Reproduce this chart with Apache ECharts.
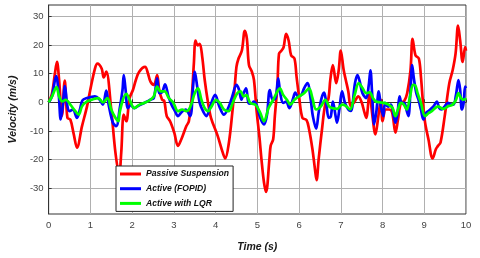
<!DOCTYPE html>
<html>
<head>
<meta charset="utf-8">
<script src="https://cdn.jsdelivr.net/npm/echarts@6/dist/echarts.min.js"></script>
<style>html,body{margin:0;padding:0;background:#fff}#c{width:480px;height:258px}</style>
</head>
<body>
<div id="c"></div>
<script>
var yTicks = [-30, -20, -10, 0, 10, 20, 30];
var seriesNames = ['Passive Suspension', 'Active (FOPID)', 'Active with LQR'];

var passiveT = [0,0.08,0.15,0.2,0.25,0.32,0.385,0.45,0.52,0.6,0.68,0.8,0.92,0.99,1.11,1.17,1.27,1.32,1.38,1.5,1.6,1.69,1.74,1.8,1.86,1.94,2.02,2.09,2.17,2.31,2.38,2.44,2.52,2.6,2.65,2.72,2.77,2.83,2.91,3.01,3.1,3.18,3.3,3.36,3.43,3.48,3.52,3.57,3.62,3.68,3.74,3.82,3.89,4.05,4.17,4.23,4.32,4.4,4.46,4.5,4.55,4.63,4.7,4.75,4.8,4.87,4.92,4.98,5.05,5.1,5.16,5.21,5.29,5.32,5.38,5.42,5.48,5.52,5.58,5.63,5.69,5.75,5.81,5.89,5.94,6.0,6.08,6.18,6.24,6.32,6.38,6.42,6.47,6.55,6.63,6.7,6.75,6.81,6.89,6.95,7.0,7.07,7.12,7.18,7.24,7.32,7.42,7.5,7.57,7.61,7.69,7.75,7.83,7.9,7.96,8.0,8.08,8.16,8.23,8.31,8.37,8.44,8.52,8.59,8.67,8.72,8.79,8.87,8.92,8.97,9.02,9.1,9.2,9.28,9.33,9.39,9.49,9.6,9.68,9.75,9.81,9.86,9.92,9.98,10];
var passiveV = [0,3,10,14.1,8,-4.7,7.6,-5.4,-6,-11,-15.8,-8.3,-1.4,3.8,11.8,13.5,11.8,8.7,10.7,-2.5,-17.5,-25.3,-17.5,-4.3,-6.6,1.5,4.3,7.8,10.7,12.4,10.1,7.2,6.1,9.5,4.3,0.9,0.5,-4.8,-6.6,-10.6,-15.2,-12.9,-8.3,-6.6,2.1,13.6,21.6,19.9,20.4,15.9,7.8,-0.2,-5.4,-11.7,-17.5,-19.6,-14,-3.7,5.5,12.4,15.3,18.1,25,22.2,13,10.7,7.8,-2.5,-12,-20,-28,-31.3,-19.8,-15.2,-12.9,-4.8,5.5,17,18.1,19.3,23.9,21.6,16.4,15.3,9,2.1,-5.4,-6.2,-9.4,-16.3,-23.2,-27.2,-19.8,-9.4,-0.5,1,8,13,6.7,11.2,18.1,11.2,7.8,3.8,-1.4,0,2.1,0,-3.7,-5.4,3.2,-3.7,-11.2,-4.8,0.9,-6.6,-2.5,-2.5,-3.5,-10.6,-6,-0.2,0.5,3.2,11.2,22.2,16.4,15.3,9,-0.2,-7.1,-12.9,-19.6,-16.3,-15.2,-14,-4.8,6.7,11.2,17,26.8,21.6,14.1,19.3,18];

var fopidT = [0,0.08,0.18,0.24,0.29,0.34,0.39,0.45,0.5,0.58,0.68,0.75,0.81,0.92,1.11,1.22,1.3,1.38,1.44,1.54,1.62,1.7,1.77,1.8,1.84,1.9,1.97,2.05,2.17,2.29,2.44,2.52,2.6,2.65,2.72,2.79,2.87,2.95,3.03,3.1,3.18,3.28,3.39,3.46,3.5,3.56,3.62,3.7,3.78,3.87,3.99,4.09,4.2,4.32,4.4,4.5,4.56,4.62,4.67,4.73,4.79,4.86,4.91,4.98,5.07,5.16,5.23,5.3,5.37,5.44,5.5,5.55,5.62,5.69,5.77,5.85,5.91,5.97,6.05,6.12,6.2,6.28,6.33,6.41,6.47,6.54,6.6,6.65,6.71,6.76,6.81,6.87,6.91,6.97,7.03,7.1,7.18,7.24,7.34,7.4,7.45,7.52,7.61,7.67,7.71,7.75,7.8,7.85,7.91,7.96,8.02,8.06,8.13,8.2,8.27,8.31,8.36,8.41,8.46,8.52,8.58,8.62,8.67,8.71,8.75,8.81,8.86,8.92,8.98,9.04,9.1,9.18,9.24,9.3,9.36,9.41,9.49,9.57,9.63,9.7,9.76,9.82,9.86,9.9,9.94,9.98,10];
var fopidV = [0,2.1,9.2,3.2,-6,-1,5.7,-1.4,-3.1,-2.5,-5.4,-2.5,0.7,1.5,2.1,1,-0.8,4.1,-1,-7.1,-8.3,-2.5,4.3,9.5,4.9,-2,-1,-2,-1,-0.2,0.9,1.5,8.4,3.2,3.5,6.3,2.1,-1,-3.1,-4.8,-3.5,-2.5,-4.8,5.5,10.7,5.5,-0.2,-3.1,-4.8,-1.4,2.6,-1.4,-4.3,-1.4,2.1,6.1,4.5,0.9,3.2,4.9,-0.2,-0.5,0.3,-0.8,-5.4,-7.7,-4.5,4.3,0.9,1.5,8.4,3.2,-0.2,0.3,-2,1,3.4,2.1,2.5,4.9,6.7,0.9,-4.8,-9.2,-3.5,1.5,3.4,0,-5.4,-5,0.3,-4.3,-7.1,-2,3.8,-0.2,-2.5,-3,6.7,9.5,7.5,3.2,1.5,6,11.2,3.2,-7.7,-3.5,3.8,-1.4,-4.8,-0.2,-1.5,-0.8,-4.8,-7.1,-3.7,2.1,-0.2,-0.2,-3,-4.8,4.3,13,8.4,3.2,1,-2.5,-6,-3.7,-3,-2,-1,0.3,-2,-2.5,-1.4,-0.2,-0.8,-0.8,2.6,7.8,4.3,-2.5,-0.5,5.5,5];

var lqrT = [0,0.08,0.19,0.25,0.33,0.41,0.52,0.64,0.72,0.8,0.92,1.05,1.19,1.3,1.41,1.5,1.6,1.67,1.7,1.78,1.86,1.94,2.05,2.18,2.33,2.44,2.52,2.6,2.68,2.78,2.88,2.99,3.1,3.2,3.3,3.36,3.43,3.5,3.58,3.66,3.74,3.82,3.9,4.01,4.1,4.2,4.31,4.41,4.52,4.6,4.67,4.74,4.83,4.95,4.99,5.07,5.16,5.27,5.38,5.48,5.54,5.62,5.71,5.79,5.89,6.0,6.12,6.24,6.32,6.41,6.52,6.63,6.72,6.79,6.91,7.03,7.12,7.22,7.33,7.43,7.52,7.61,7.69,7.77,7.84,7.94,8.04,8.14,8.24,8.31,8.37,8.44,8.51,8.58,8.66,8.73,8.78,8.84,8.92,9.02,9.1,9.18,9.26,9.33,9.45,9.57,9.68,9.76,9.82,9.88,9.95,10];
var lqrV = [0,2,5.3,2.1,0.3,0.9,-0.8,-3.1,-4.3,-1.4,0.3,1,1.5,0,1.5,-2.5,-5.4,-6.6,-3.7,0.9,3,0.9,-2,-0.8,0,0.9,2.1,5.5,3.8,3.8,1.5,-0.2,-3.1,-2.5,-3.1,-2.5,-0.2,3.2,4.9,0.9,-2,-3.1,-1.5,0.9,-0.2,-2.5,-3.1,-0.2,3.2,3.8,2.1,2.5,-0.2,-0.8,-1.4,-3.7,-6.6,-2,0.9,3.8,4.9,2.6,0.9,-0.8,0.9,2.1,3.2,4.9,1.5,-2.5,-1.5,0.9,-1.4,-2,-2.3,-0.8,-1.2,-2.5,2.5,6.7,5,3.2,3.5,1.5,0.3,0,-0.2,-0.8,-2,-4.8,-2.5,-0.2,-0.8,-2.5,2.1,6.1,6,3.2,-0.2,-4.8,-3.8,-3.1,-2,-1.4,-2.3,-1.4,-0.8,0.9,3.2,1.5,0.9,1.5];

function zip(t, v) { return t.map(function (x, i) { return [x, v[i]]; }); }

var chart = echarts.init(document.getElementById('c'), null, { renderer: 'canvas' });
var font = 'Liberation Sans, Arial, sans-serif';
function mkSeries(name, t, v, color) {
  return {
    name: name, type: 'line', data: zip(t, v), smooth: 0.35, symbol: 'none', showSymbol: false,
    lineStyle: { color: color, width: 2.7 }, itemStyle: { color: color }, animation: false
  };
}
chart.setOption({
  animation: false,
  backgroundColor: '#fff',
  grid: { left: 38.5, right: 14, top: 5, bottom: 40.3, show: true, borderColor: '#333', borderWidth: 1, backgroundColor: 'transparent' },
  xAxis: {
    type: 'value', min: 0, max: 10, interval: 1,
    name: 'Time (s)', nameLocation: 'middle', nameGap: 28,
    nameTextStyle: { fontFamily: font, fontSize: 10.5, fontWeight: 'bold', fontStyle: 'italic', color: '#1a1a1a' },
    axisLine: { show: true, lineStyle: { color: '#333', width: 1 } },
    axisTick: { show: true, inside: true, length: 3, lineStyle: { color: '#333' } },
    axisLabel: { fontFamily: font, fontSize: 9.5, color: '#444', margin: 6 },
    splitLine: { show: true, lineStyle: { color: '#b0b0b0', width: 1 } }
  },
  yAxis: {
    type: 'value', min: -39, max: 34,
    name: 'Velocity (m/s)', nameLocation: 'middle', nameGap: 22, nameRotate: 90,
    nameTextStyle: { fontFamily: font, fontSize: 10.5, fontWeight: 'bold', fontStyle: 'italic', color: '#1a1a1a' },
    axisLine: { show: true, lineStyle: { color: '#333', width: 1 } },
    axisTick: { show: true, inside: true, length: 3, customValues: yTicks, lineStyle: { color: '#333' } },
    axisLabel: { fontFamily: font, fontSize: 9.5, color: '#444', margin: 5, customValues: yTicks },
    splitLine: { show: true, lineStyle: { color: '#b0b0b0', width: 1 } }
  },
  legend: {
    orient: 'vertical', left: 116, top: 166,
    backgroundColor: '#fff', borderColor: '#222', borderWidth: 1, borderRadius: 0,
    padding: [2, 4, 2, 4], itemGap: 2.7, itemWidth: 21, itemHeight: 3, icon: 'rect',
    textStyle: { fontFamily: font, fontSize: 8.6, fontStyle: 'italic', fontWeight: 'bold', color: '#111', lineHeight: 12 },
    data: seriesNames
  },
  series: [
    mkSeries(seriesNames[0], passiveT, passiveV, '#ff0000'),
    mkSeries(seriesNames[1], fopidT, fopidV, '#0000ff'),
    mkSeries(seriesNames[2], lqrT, lqrV, '#00ff00')
  ]
});
</script>
</body>
</html>
